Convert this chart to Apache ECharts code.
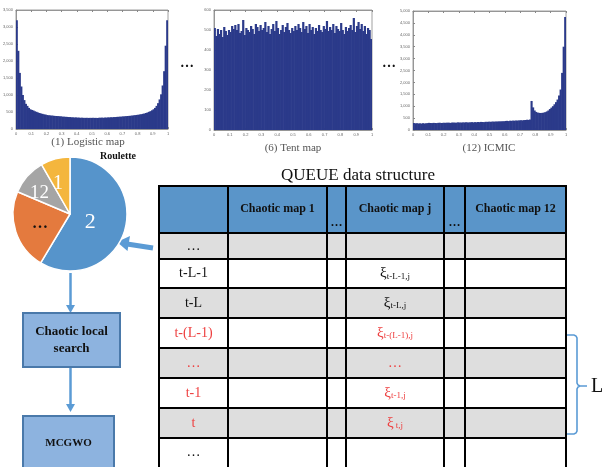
<!DOCTYPE html>
<html><head><meta charset="utf-8">
<script src="https://cdn.jsdelivr.net/npm/echarts@6/dist/echarts.min.js"></script>
<style>html,body{margin:0;padding:0;background:#fff}#c{width:606px;height:467px}</style>
</head><body><div id="c"></div><script>
// ---------------- DATA ----------------
const logisticCounts = [
3200,2300,1650,1250,1000,850,740,680,620,580,
560,545,520,505,485,470,455,445,430,425,
410,405,400,395,392,385,382,380,376,372,
366,362,360,356,352,350,346,342,340,340,
336,334,330,332,328,326,330,325,328,326,
330,326,328,324,330,332,334,330,336,336,
340,342,345,346,350,352,356,360,362,366,
370,374,378,382,386,390,396,402,408,414,
420,428,436,446,456,470,486,505,525,550,
580,620,680,760,870,1020,1280,1700,2450,3200];
const tentCounts = [
510,470,505,480,500,465,515,495,475,500,
490,520,505,525,500,530,485,495,550,475,
510,500,490,520,505,480,530,515,495,525,
500,510,540,490,520,480,505,530,495,545,
510,480,500,525,490,515,535,500,485,510,
495,520,500,530,510,490,540,505,520,485,
530,500,515,480,510,495,525,500,490,520,
505,545,495,515,500,530,485,520,505,495,
535,500,480,515,495,510,525,500,560,490,
520,540,505,530,495,520,480,510,500,455];
const icmicCounts = [
290,280,285,275,280,270,285,275,280,290,
300,295,290,300,295,290,300,305,295,300,
305,300,310,305,300,310,315,305,310,320,
315,310,320,315,325,320,315,325,330,320,
330,325,335,330,340,335,330,345,340,350,
345,350,355,350,360,355,365,360,370,365,
380,385,375,390,385,395,390,400,395,405,
410,405,415,420,430,425,440,1220,950,820,
760,730,720,715,720,730,750,780,820,880,
940,1000,1080,1170,1280,1450,1700,2400,3500,4750];
const histCaptions = ['(1) Logistic map','(6) Tent map','(12) ICMIC'];
const histYMax = [3500, 600, 5000];
const histYStep = [500, 100, 500];
const xTickLabels = ['0','0.1','0.2','0.3','0.4','0.5','0.6','0.7','0.8','0.9','1'];

const pieNames = ['2','…','12','1'];
const pieValues = [58.6, 22.8, 10.3, 8.3];

const tableHeaders = ['', 'Chaotic map 1', '…', 'Chaotic map j', '…', 'Chaotic map 12'];
const rowLabels = ['…','t-L-1','t-L','t-(L-1)','…','t-1','t','…'];
const rowSubs   = ['', 't-L-1,j', 't-L,j', 't-(L-1),j', '', 't-1,j', ' t,j', ''];
const rowInQueue = [false,false,false,true,true,true,true,false];

// ---------------- LAYOUT ----------------
const SERIF = "'Liberation Serif','DejaVu Serif',serif";
const grids = [
  {left:15, top:10, width:153, height:119},
  {left:214, top:10, width:158, height:120},
  {left:413, top:11, width:153, height:119}];
const captionPos = [[88,142],[293,148],[489,148]];
const colX = [159, 228, 327, 346, 444, 465, 566];
const rowY = [186, 233, 259, 288, 318, 348, 378, 408, 438, 490];
const BLUE = '#5b9bd5', RED = '#ee4040';
// per-slice label styling (shift via asymmetric padding)
const pieLabelStyles = [
  {fontSize:22, color:'#fff', padding:[28,20,0,0]},
  {fontSize:16, color:'#111', fontWeight:'bold', padding:[22,0,0,0]},
  {fontSize:19, color:'#fff', padding:[0,14,10,0]},
  {fontSize:20, color:'#fff', padding:[0,8,32,0]}];

const series = [], xAxes = [], yAxes = [];
[logisticCounts, tentCounts, icmicCounts].forEach((arr, g) => {
  xAxes.push({gridIndex:g, type:'category', data:arr.map((_, i) => i), show:false});
  xAxes.push({gridIndex:g, type:'value', min:0, max:1, interval:0.1, position:'bottom',
    axisLine:{show:true, lineStyle:{color:'#888', width:0.8}},
    axisTick:{inside:true, length:2, lineStyle:{color:'#888'}},
    splitLine:{show:false},
    axisLabel:{fontSize:4, color:'#666', margin:3, formatter:(v, i) => xTickLabels[i] ?? ''}});
  xAxes.push({gridIndex:g, type:'value', min:0, max:1, interval:0.1, position:'top',
    axisLine:{show:true, lineStyle:{color:'#888', width:0.8}},
    axisTick:{inside:true, length:2, lineStyle:{color:'#888'}},
    splitLine:{show:false}, axisLabel:{show:false}});
  yAxes.push({gridIndex:g, type:'value', min:0, max:histYMax[g], interval:histYStep[g],
    axisLine:{show:true, lineStyle:{color:'#888', width:0.8}},
    axisTick:{inside:true, length:2, lineStyle:{color:'#888'}},
    splitLine:{show:false},
    axisLabel:{fontSize:4, color:'#666', margin:3}});
  series.push({type:'bar', xAxisIndex:g*3, yAxisIndex:g, data:arr,
    barWidth:'140%', itemStyle:{color:'#2b3a8a', borderWidth:0}, silent:true, animation:false});
});

series.push({type:'pie', center:[70,214], radius:[0,57], startAngle:90, clockwise:true,
  animation:false, silent:true,
  data: pieNames.map((n, i) => ({name:n, value:pieValues[i], label:pieLabelStyles[i]})),
  color:['#5694cb','#e47a3e','#a5a5a5','#f4b63d'],
  itemStyle:{borderColor:'#fff', borderWidth:1.5},
  label:{show:true, position:'inside', formatter:'{b}', fontFamily:SERIF, color:'#fff', fontSize:20},
  labelLine:{show:false}});

// ------------- GRAPHIC (table, boxes, arrows) -------------
const gfx = [];
histCaptions.forEach((t, i) => gfx.push({type:'text', x:captionPos[i][0], y:captionPos[i][1],
  style:{text:t, font:'11px '+SERIF, fill:'#555', align:'center', verticalAlign:'middle'}}));
[[187,63],[389,63]].forEach(p => gfx.push({type:'text', x:p[0], y:p[1],
  style:{text:'…', font:'bold 14px '+SERIF, fill:'#111', align:'center', verticalAlign:'middle'}}));

gfx.push({type:'text', x:118, y:156, style:{text:'Roulette', font:'bold 10px '+SERIF, fill:'#111', align:'center', verticalAlign:'middle'}});
gfx.push({type:'text', x:358, y:176, style:{text:'QUEUE data structure', font:'17px '+SERIF, fill:'#111', align:'center', verticalAlign:'middle'}});

// table row fills
for (let r = 0; r < rowY.length - 1; r++) {
  const fill = r === 0 ? '#5a95c9' : (r % 2 === 1 ? '#dedede' : '#ffffff');
  gfx.push({type:'rect', shape:{x:colX[0], y:rowY[r], width:colX[colX.length-1]-colX[0], height:rowY[r+1]-rowY[r]}, style:{fill}});
}
// grid lines
rowY.slice(0, -1).forEach(y => gfx.push({type:'line', shape:{x1:colX[0]-1, y1:y, x2:colX[colX.length-1]+1, y2:y}, style:{stroke:'#000', lineWidth:2}}));
colX.forEach(x => gfx.push({type:'line', shape:{x1:x, y1:rowY[0]-1, x2:x, y2:rowY[rowY.length-1]}, style:{stroke:'#000', lineWidth:2}}));
// header texts
tableHeaders.forEach((h, c) => {
  if (!h) return;
  const cx = (colX[c] + colX[c+1]) / 2;
  const isDots = h === '…';
  gfx.push({type:'text', x:cx, y: isDots ? rowY[1]-10 : (rowY[0]+rowY[1])/2 - 1,
    style:{text:h, font:'bold 12px '+SERIF, fill:'#111', align:'center', verticalAlign:'middle'}});
});
// body texts
rowLabels.forEach((lab, i) => {
  const r = i + 1;
  const cy = (rowY[r] + Math.min(rowY[r+1], 467)) / 2;
  const col = rowInQueue[i] ? RED : '#111';
  gfx.push({type:'text', x:(colX[0]+colX[1])/2, y:cy, style:{text:lab, font:'14px '+SERIF, fill:col, align:'center', verticalAlign:'middle'}});
  const jx = (colX[3]+colX[4])/2;
  if (rowSubs[i]) {
    gfx.push({type:'text', x:jx, y:cy, style:{text:'{x|ξ}{s|'+rowSubs[i]+'}', align:'center', verticalAlign:'middle', fill:col,
      rich:{x:{fontSize:15, fontFamily:SERIF, fill:col, verticalAlign:'middle'}, s:{fontSize:9, fontFamily:SERIF, fill:col, verticalAlign:'bottom', padding:[4,0,0,0]}}}});
  } else if (rowInQueue[i]) {
    gfx.push({type:'text', x:jx, y:cy, style:{text:'…', font:'14px '+SERIF, fill:col, align:'center', verticalAlign:'middle'}});
  }
});

// brace + L
gfx.push({type:'polyline', shape:{points:[[567,335],[574,335],[576,336],[577,338],[577,383],[578,385],[580,386],[587,386],[580,386],[578,387],[577,389],[577,431],[576,433],[574,434],[567,434]]},
  style:{stroke:BLUE, lineWidth:1.6, fill:null}});
gfx.push({type:'text', x:597, y:387, style:{text:'L', font:'20px '+SERIF, fill:'#111', align:'center', verticalAlign:'middle'}});

// arrows
gfx.push({type:'line', shape:{x1:153, y1:248, x2:127, y2:244}, style:{stroke:BLUE, lineWidth:5}});
gfx.push({type:'polygon', shape:{points:[[117,242],[130,236],[127.5,251]]}, style:{fill:BLUE}});
gfx.push({type:'line', shape:{x1:70.5, y1:273, x2:70.5, y2:306}, style:{stroke:BLUE, lineWidth:2.5}});
gfx.push({type:'polygon', shape:{points:[[70.5,313],[66,305],[75,305]]}, style:{fill:BLUE}});
gfx.push({type:'line', shape:{x1:70.5, y1:368, x2:70.5, y2:404}, style:{stroke:BLUE, lineWidth:2.5}});
gfx.push({type:'polygon', shape:{points:[[70.5,412],[66,404],[75,404]]}, style:{fill:BLUE}});

// boxes
gfx.push({type:'rect', shape:{x:23, y:313, width:97, height:54}, style:{fill:'#8db3df', stroke:'#4a79aa', lineWidth:2}});
gfx.push({type:'text', x:71.5, y:340, style:{text:'Chaotic local\nsearch', font:'bold 13px '+SERIF, lineHeight:17, fill:'#111', align:'center', verticalAlign:'middle'}});
gfx.push({type:'rect', shape:{x:23, y:416, width:91, height:60}, style:{fill:'#8db3df', stroke:'#4a79aa', lineWidth:2}});
gfx.push({type:'text', x:68.5, y:443, style:{text:'MCGWO', font:'bold 11px '+SERIF, fill:'#111', align:'center', verticalAlign:'middle'}});

const chart = echarts.init(document.getElementById('c'));
chart.setOption({
  backgroundColor:'#fff', animation:false,
  grid: grids.map(g => Object.assign({show:true, borderColor:'#888', borderWidth:0.8, backgroundColor:'#fff'}, g)),
  xAxis: xAxes, yAxis: yAxes, series: series, graphic: gfx
});
</script></body></html>
